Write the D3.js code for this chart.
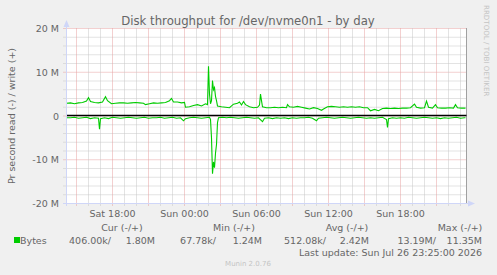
<!DOCTYPE html>
<html>
<head>
<meta charset="utf-8">
<script src="https://cdn.jsdelivr.net/npm/d3@7"></script>
<style>
  body { margin: 0; background: #F0F0F0; }
  svg text { font-family: "DejaVu Sans", sans-serif; fill: #666; }
</style>
</head>
<body>
<div id="chart"></div>
<script>
// samples are 5 minute slots counted from Sat Jul 25 14:10
const writeSlot = [0,4,8,12,16,20,22,24,28,32,36,39,41,45,49,53,57,61,65,69,73,77,79,83,87,91,95,99,103,105,107,111,115,118,119,123,127,131,135,139,141,142,143,144,145,146,147,148,149,150,151,155,159,163,167,171,173,175,177,179,183,187,191,193,194,195,196,200,204,208,212,216,220,221,223,227,231,235,239,243,247,251,255,257,261,265,269,273,277,281,285,289,293,297,301,304,308,312,316,320,324,328,332,336,340,344,348,350,354,358,360,362,366,369,371,375,379,383,387,389,391,395,399];
const writeVal = [2.9,3.0,2.8,3.0,3.1,3.4,4.2,3.3,3.1,3.0,3.2,4.4,3.5,2.8,2.9,3.0,3.0,2.9,3.0,3.1,3.0,2.9,2.6,2.8,3.0,2.9,3.0,3.1,3.5,4.0,3.2,3.2,3.0,3.1,2.0,2.1,2.4,2.6,2.3,2.8,2.6,11.35,5.0,2.8,3.5,8.1,6.0,6.5,4.5,3.5,2.3,2.1,2.0,1.9,2.7,2.9,3.2,2.5,3.3,2.6,2.1,1.9,2.0,2.5,5.0,3.5,2.1,1.9,1.9,2.0,1.9,2.0,1.9,2.6,2.1,2.0,2.2,2.0,1.8,1.6,1.9,1.7,1.3,1.6,2.1,2.2,2.1,2.0,2.1,2.0,2.1,2.0,2.1,1.9,1.9,1.2,1.5,1.2,1.7,1.8,1.7,1.8,1.7,1.8,1.8,1.9,2.7,2.0,1.8,1.9,3.4,2.0,1.8,2.6,1.9,1.8,1.8,1.9,1.8,2.6,1.9,1.8,1.8];

const readSlot = [0,4,8,12,16,20,24,28,32,33,34,38,42,46,50,54,58,62,66,70,74,78,82,86,90,94,98,102,106,110,114,117,119,123,127,131,135,139,143,144,145,146,147,148,149,150,151,152,156,160,164,168,172,176,180,184,188,192,196,198,202,206,210,214,218,222,226,230,234,238,242,246,250,252,256,260,264,268,272,276,280,284,288,292,296,300,304,308,312,316,320,321,322,326,330,334,338,342,346,350,354,358,362,366,370,374,378,382,386,390,394,398,399];
const readVal = [0.4,0.4,0.3,0.5,0.4,0.3,0.6,0.4,0.5,3.0,0.6,0.4,0.6,0.3,0.4,0.5,0.4,0.3,0.4,0.5,0.4,0.3,0.5,0.4,0.4,0.3,0.5,0.4,0.3,0.5,0.4,1.1,0.6,0.4,0.3,0.4,0.5,0.4,0.3,0.8,5.0,13.19,10.5,11.8,8.5,6.5,1.5,0.4,0.3,0.4,0.3,0.4,0.5,0.4,0.3,0.4,0.5,0.4,1.3,0.5,0.4,0.6,0.4,0.5,0.4,0.6,0.4,0.5,0.4,0.4,0.3,0.5,1.1,0.5,0.4,0.3,0.4,0.5,0.4,0.3,0.4,0.5,0.4,0.3,0.4,0.5,0.4,0.5,0.4,0.3,0.8,2.6,0.6,0.4,0.5,0.4,0.5,0.3,0.4,0.5,0.4,0.3,0.4,0.5,0.4,0.6,0.4,0.5,0.4,0.3,0.5,0.4,0.4];

const yTicks = [-20, -10, 0, 10, 20];
const legendHeads = ["Cur (-/+)", "Min (-/+)", "Avg (-/+)", "Max (-/+)"];
const legendRead = ["406.00k/", "67.78k/", "512.08k/", "13.19M/"];
const legendWrite = ["1.80M", "1.24M", "2.42M", "11.35M"];

const W = 497, H = 275;
const t0 = new Date(2026, 6, 25, 14, 10);
const t1 = new Date(2026, 6, 26, 23, 30);
const slotTime = s => new Date(t0.getTime() + s * 5 * 60000);

const svg = d3.select("#chart").append("svg")
  .attr("width", W).attr("height", H);

svg.append("rect").attr("width", W).attr("height", H).attr("fill", "#F0F0F0");

const x = d3.scaleTime().domain([t0, t1]).range([66.5, 466.5]);
const y = d3.scaleLinear().domain([-20, 20]).range([203.5, 28.5]);

// canvas
svg.append("rect")
  .attr("x", 66).attr("y", 28).attr("width", 401).attr("height", 176)
  .attr("fill", "#fff");

const minorC = "#c6c6c6", majorC = "#e6a0a0";

// horizontal grid
const g = svg.append("g");
d3.range(-20, 21, 2).forEach(v => {
  const major = v % 10 === 0;
  g.append("line")
    .attr("x1", 63.5).attr("x2", 466.5)
    .attr("y1", y(v)).attr("y2", y(v))
    .attr("stroke", major ? majorC : minorC)
    .attr("stroke-dasharray", "1,1");
});

// vertical grid
x.ticks(d3.timeHour.every(1)).forEach(t => {
  const major = t.getHours() % 3 === 0;
  g.append("line")
    .attr("x1", x(t)).attr("x2", x(t))
    .attr("y1", 28.5).attr("y2", 206)
    .attr("stroke", major ? majorC : minorC)
    .attr("stroke-dasharray", "1,1");
});

// right border
svg.append("line")
  .attr("x1", 466.5).attr("x2", 466.5).attr("y1", 28).attr("y2", 204)
  .attr("stroke", "#a0a0a0");

// y labels
svg.append("g").selectAll("text")
  .data(yTicks).join("text")
  .attr("x", 59).attr("y", d => y(d) + 3.5)
  .attr("text-anchor", "end")
  .style("font-size", "9.5px")
  .text(d => d === 0 ? "0" : d + " M");

// x labels
svg.append("g").selectAll("text")
  .data(x.ticks(d3.timeHour.every(6)).filter(t => t.getHours() % 6 === 0))
  .join("text")
  .attr("x", d => x(d)).attr("y", 217)
  .attr("text-anchor", "middle")
  .style("font-size", "9.5px")
  .text(d3.timeFormat("%a %H:%M"));

// data lines
const line = d3.line().x(d => x(d[0])).y(d => y(d[1]));
const writeData = writeSlot.map((s, i) => [slotTime(s), writeVal[i]]);
const readData = readSlot.map((s, i) => [slotTime(s), -readVal[i]]);

svg.append("path").datum(writeData)
  .attr("d", line).attr("fill", "none")
  .attr("stroke", "#00CC00").attr("stroke-width", 1.1);
svg.append("path").datum(readData)
  .attr("d", line).attr("fill", "none")
  .attr("stroke", "#00CC00").attr("stroke-width", 1.1);

// zero rule
svg.append("line")
  .attr("x1", 66.5).attr("x2", 466.5)
  .attr("y1", Math.round(y(0)) - 0.5).attr("y2", Math.round(y(0)) - 0.5)
  .attr("stroke", "#000").attr("stroke-width", 1.4);

// axes with arrows
const axC = "#CFD6F8";
svg.append("line").attr("x1", 66.5).attr("x2", 66.5).attr("y1", 206).attr("y2", 24)
  .attr("stroke", axC);
svg.append("line").attr("x1", 63).attr("x2", 470).attr("y1", 203.5).attr("y2", 203.5)
  .attr("stroke", axC);
svg.append("path").attr("d", "M63.5,27 L66.5,20 L69.5,27 Z").attr("fill", axC);
svg.append("path").attr("d", "M468,200.5 L475,203.5 L468,206.5 Z").attr("fill", axC);

// title
svg.append("text")
  .attr("x", 248).attr("y", 25)
  .attr("text-anchor", "middle")
  .style("font-size", "11.7px")
  .text("Disk throughput for /dev/nvme0n1 - by day");

// vertical label
svg.append("text")
  .attr("transform", "translate(15,116) rotate(-90)")
  .attr("text-anchor", "middle")
  .style("font-size", "9.5px")
  .text("Pr second read (-) / write (+)");

// watermark
svg.append("text")
  .attr("transform", "translate(484,5) rotate(90)")
  .style("font-size", "7.1px").style("fill", "#c4c4c4")
  .text("RRDTOOL / TOBI OETIKER");

// legend
const headX = [122, 234, 347, 460];
svg.append("g").selectAll("text")
  .data(legendHeads).join("text")
  .attr("x", (d, i) => headX[i]).attr("y", 231)
  .attr("text-anchor", "middle")
  .style("font-size", "9.5px")
  .text(d => d);

svg.append("rect").attr("x", 14).attr("y", 237).attr("width", 6).attr("height", 6)
  .attr("fill", "#00CC00");
svg.append("text").attr("x", 20).attr("y", 243.5)
  .style("font-size", "9.5px").text("Bytes");

const readX = [111, 216, 326, 436];
const writeX = [155, 262, 369, 482];
svg.append("g").selectAll("text")
  .data(legendRead).join("text")
  .attr("x", (d, i) => readX[i]).attr("y", 243.5)
  .attr("text-anchor", "end").style("font-size", "9.5px")
  .text(d => d);
svg.append("g").selectAll("text")
  .data(legendWrite).join("text")
  .attr("x", (d, i) => writeX[i]).attr("y", 243.5)
  .attr("text-anchor", "end").style("font-size", "9.5px")
  .text(d => d);

svg.append("text").attr("x", 482).attr("y", 255.5)
  .attr("text-anchor", "end").style("font-size", "9.5px")
  .text("Last update: Sun Jul 26 23:25:00 2026");

svg.append("text").attr("x", 248).attr("y", 266)
  .attr("text-anchor", "middle")
  .style("font-size", "7px").style("fill", "#c4c4c4")
  .text("Munin 2.0.76");
</script>
</body>
</html>
